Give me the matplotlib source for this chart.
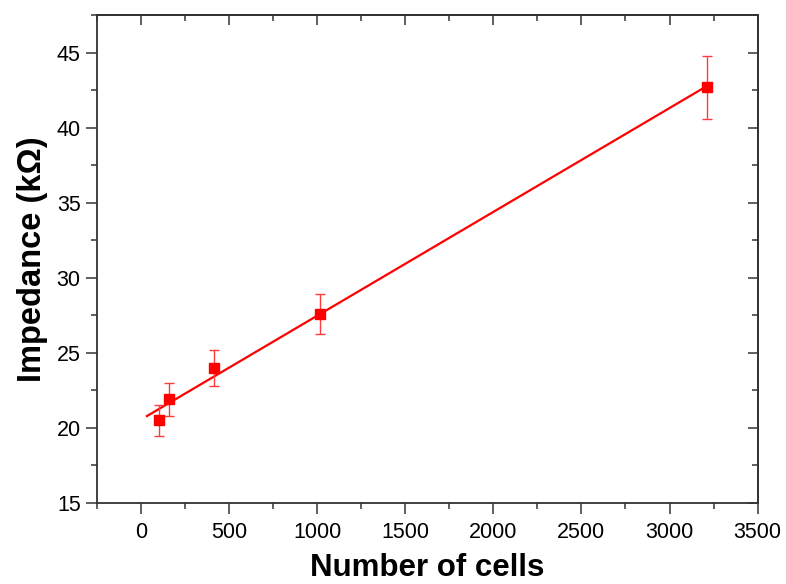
import numpy as np
import matplotlib
matplotlib.use("Agg")
import matplotlib.pyplot as plt
from matplotlib.ticker import MultipleLocator

plt.rcParams['font.family'] = ['Liberation Sans', 'DejaVu Sans']

# data
cells = [106, 163, 413, 1019, 3210]
impedance = [20.5, 21.9, 24.0, 27.6, 42.7]
err = [1.05, 1.1, 1.2, 1.35, 2.1]
fit_range = [35, 3240]

fig = plt.figure(figsize=(7.86, 5.84), dpi=100)
ax = fig.add_axes([0.123, 0.139, 0.841, 0.835])

# linear fit
k, b = np.polyfit(cells, impedance, 1)
xf = np.array(fit_range)
ax.plot(xf, k * xf + b, color='red', lw=1.6, zorder=2)

ax.errorbar(cells, impedance, yerr=err, fmt='s', color='red', ms=7.5,
            ecolor='#ff3b3b', elinewidth=1, capsize=3.5, capthick=1, zorder=3)

ax.set_xlim(-250, 3500)
ax.set_ylim(15, 47.5)

tick_col = '#333333'
top = ax.secondary_xaxis('top')
right = ax.secondary_yaxis('right')
ax.xaxis.set_major_locator(MultipleLocator(500))
ax.xaxis.set_minor_locator(MultipleLocator(250))
ax.yaxis.set_major_locator(MultipleLocator(5))
ax.yaxis.set_minor_locator(MultipleLocator(2.5))
top.xaxis.set_major_locator(MultipleLocator(500))
top.xaxis.set_minor_locator(MultipleLocator(250))
right.yaxis.set_major_locator(MultipleLocator(5))
right.yaxis.set_minor_locator(MultipleLocator(2.5))

ax.tick_params(which='both', direction='out', labelsize=15.5, color=tick_col, width=1.1)
ax.tick_params(which='major', length=8)
ax.tick_params(which='minor', length=4.5)
ax.tick_params(axis='x', which='major', pad=6)
for sec in (top, right):
    sec.tick_params(which='both', direction='in', color=tick_col, width=1.1,
                    labeltop=False, labelright=False)
    sec.tick_params(which='major', length=7)
    sec.tick_params(which='minor', length=4)
    for s in sec.spines.values():
        s.set_linewidth(1.3)
        s.set_color(tick_col)

for s in ax.spines.values():
    s.set_linewidth(1.3)
    s.set_color(tick_col)

ax.set_xlabel('Number of cells', fontsize=22.5, fontweight='bold', labelpad=7)
ax.set_ylabel('Impedance (k\u03a9)', fontsize=23.5, fontweight='bold', labelpad=6)

fig.savefig('out.png', dpi=100)
